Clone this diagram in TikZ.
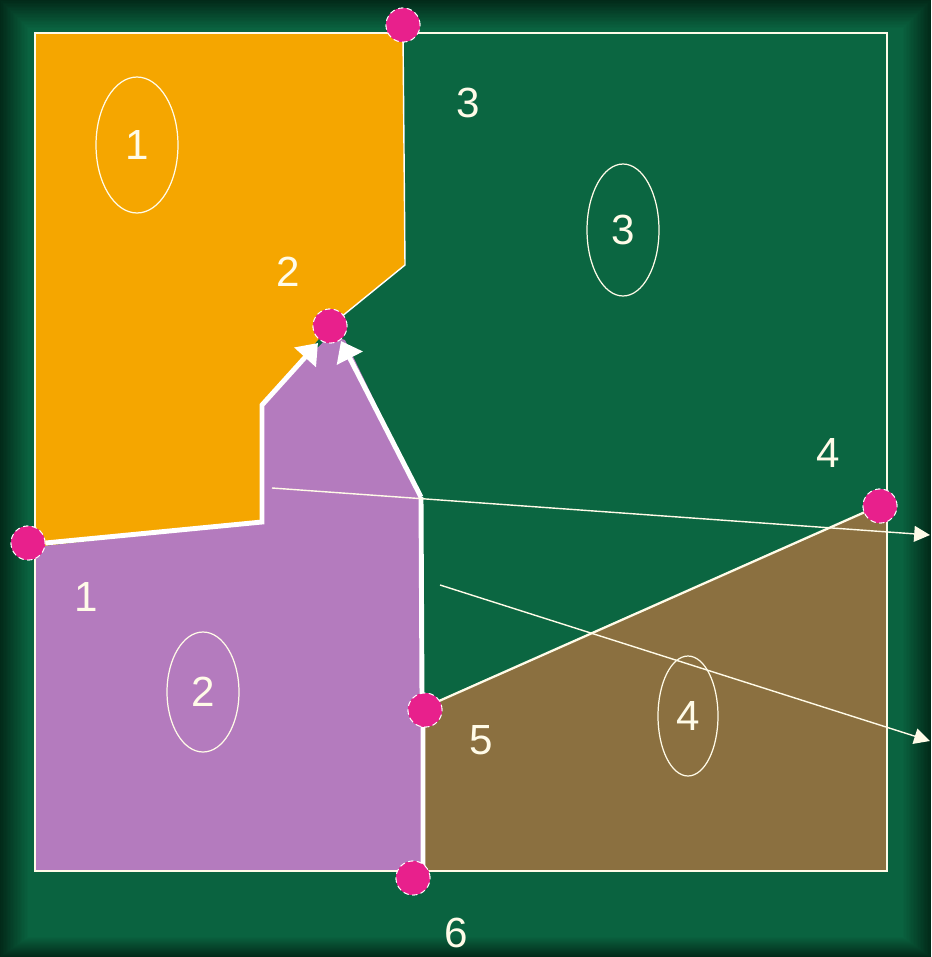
\documentclass[tikz,border=0pt]{standalone}
\usepackage{fontspec}
\setmainfont{Liberation Sans}
\usetikzlibrary{arrows.meta,shapes.geometric}
\definecolor{bgdark}{HTML}{022A19}
\definecolor{bggreen}{HTML}{0A6340}
\definecolor{sqgreen}{HTML}{0B6641}
\definecolor{regorange}{HTML}{F5A600}
\definecolor{regpurple}{HTML}{B47BBE}
\definecolor{regbrown}{HTML}{8B7040}
\definecolor{dotpink}{HTML}{E8208C}
\definecolor{cream}{HTML}{FFFBE8}
\tikzset{
  dot/.style={circle, fill=dotpink, draw=white, densely dashed, line width=0.5pt, minimum size=0.68cm, inner sep=0pt},
  lbl/.style={text=cream, font=\fontsize{24}{28}\selectfont, inner sep=0pt},
  oval/.style={ellipse, draw=cream, line width=0.7pt, text=cream, font=\fontsize{24}{28}\selectfont, inner sep=0pt},
  thickline/.style={draw=white, line width=2.8pt},
  thinarrow/.style={draw=cream, line width=0.8pt, -{Triangle[width=9pt,length=9pt]}},
  bigtip/.style={-{Triangle[width=16pt,length=11pt]}},
}
\begin{document}
\begin{tikzpicture}[x=0.02cm,y=-0.02cm]
\useasboundingbox (0,0) rectangle (931,957);
% background with darker frame
\foreach \i in {0,...,20} {
  \pgfmathsetmacro\p{\i*5}
  \fill[color=bggreen!\p!bgdark] (\i*1.4,\i*1.4) rectangle (931-\i*1.4,957-\i*1.0);
}
% main square
\fill[sqgreen] (35,33) rectangle (887,871);
% coordinates
\coordinate (j) at (421,497);
\coordinate (bend1) at (262,522);
\coordinate (bend2) at (262,405);
\coordinate (bot) at (423,871);
\coordinate (tipA) at (318,343);
\coordinate (tipB) at (341,341);
\coordinate (a1s) at (272,488);
\coordinate (a1e) at (930,535);
\coordinate (a2s) at (440,585);
\coordinate (a2e) at (930,741);
\coordinate (e5) at (439,701);
\coordinate (e4) at (865,512);
% regions
\fill[regorange] (35,33) -- (403,33) -- (405,265) -- (330,326) -- (262,405) -- (262,522) -- (35,547) -- cycle;
\fill[regpurple] (35,547) -- (262,522) -- (262,405) -- (330,335) -- (345,340) -- (421,497) -- (423,871) -- (35,871) -- cycle;
\fill[regbrown] (423,706) -- (e5) -- (e4) -- (887,500) -- (887,871) -- (423,871) -- cycle;
\draw[cream, line width=0.8pt] (35,33) rectangle (887,871);
% thin boundary orange / green
\draw[white, line width=0.8pt] (403,33) -- (405,265) -- (330,326);
% dots (named)
\node[dot] (p3) at (403,25) {};
\node[dot] (p2) at (330,326) {};
\node[dot] (p1) at (28,543) {};
\node[dot] (p4) at (880,506) {};
\node[dot] (p5) at (425,710) {};
\node[dot] (p6) at (413,878) {};
% thick boundaries
\draw[thickline, bigtip] (p1.east) -- (bend1) -- (bend2) -- (tipA);
\draw[thickline, bigtip] (j) -- (tipB);
\draw[thickline] (j) -- (422,697) (423,722) -- (bot);
\draw[cream, line width=1.3pt] (e5) -- (e4);
% through arrows
\draw[thinarrow] (a1s) -- (a1e);
\draw[thinarrow] (a2s) -- (a2e);
% redraw dots on top
\node[dot] at (p3) {};
\node[dot] at (p2) {};
\node[dot] at (p1) {};
\node[dot] at (p4) {};
\node[dot] at (p5) {};
\node[dot] at (p6) {};
% region ovals
\node[oval, minimum width=1.64cm, minimum height=2.72cm] (r1) at (137,145) {1};
\node[oval, minimum width=1.44cm, minimum height=2.4cm] (r2) at (203,692) {2};
\node[oval, minimum width=1.44cm, minimum height=2.64cm] (r3) at (623,230) {3};
\node[oval, minimum width=1.2cm, minimum height=2.4cm] (r4) at (688,716) {4};
% point labels
\node[lbl] (l3) at (468,103) {3};
\node[lbl] (l2) at (288,272) {2};
\node[lbl] (l1) at (86,597) {1};
\node[lbl] (l4) at (828,453) {4};
\node[lbl] (l5) at (481,740) {5};
\node[lbl] (l6) at (456,933) {6};
\end{tikzpicture}
\end{document}
